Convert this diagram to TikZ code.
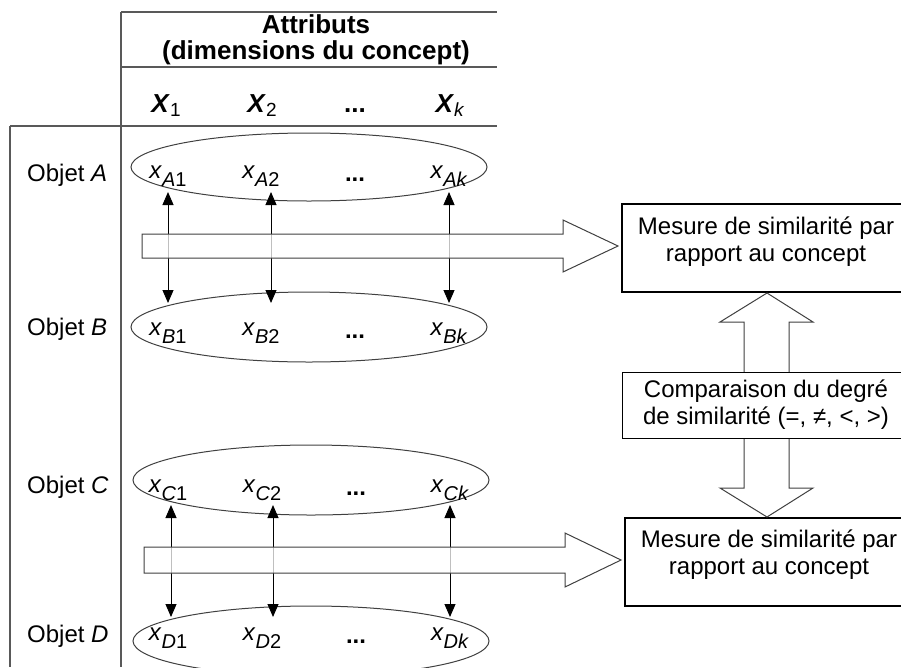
\documentclass[tikz,border=0pt]{standalone}
\usepackage{fontspec}
\setmainfont{Liberation Sans}
\usetikzlibrary{arrows.meta}
% lowered subscripts: values and header variables
\newcommand\subs[1]{\raisebox{-8pt}{\fontsize{20}{20}\selectfont #1}}
\newcommand\hsub[1]{\raisebox{-4pt}{\fontsize{19}{19}\selectfont #1}}
\newcommand\val[2]{\textit{x}\subs{\textit{#1}#2}}
\begin{document}
\begin{tikzpicture}[x=1pt,y=-1pt,
  every node/.style={font=\fontsize{24}{27}\selectfont, inner sep=0pt},
  >={Triangle[width=11pt,length=13pt]},
  grid/.style={draw=black!65, line width=1.1pt},
  oval/.style={draw=black!75, line width=1pt},
  lab/.style={anchor=base},
  hvar/.style={anchor=base, font=\fontsize{26}{28}\selectfont},
  vconn/.style={<->, line width=1pt},
  fat/.style={draw=black!75, line width=1pt, fill=white, fill opacity=0.75},
  box/.style={draw, line width=1.6pt, minimum width=288pt},
]
\useasboundingbox (0,0) rectangle (901,667);
\clip (0,0) rectangle (901,667);

% table rules
\draw[grid] (121,12) -- (497,12);
\draw[grid] (121,67) -- (497,67);
\draw[grid] (10,126) -- (497,126);
\draw[grid] (121,12) -- (121,667);
\draw[grid] (10,126) -- (10,667);

% header
\node[align=center, font=\fontsize{26}{26}\selectfont\bfseries] (attr) at (316,40)
  {Attributs\\(dimensions du concept)};
\node[hvar] (h1) at (166,112) {\textbf{\textit{X}}\hsub{1}};
\node[hvar] (h2) at (262,112) {\textbf{\textit{X}}\hsub{2}};
\node[hvar] (h3) at (355,112) {\textbf{...}};
\node[hvar] (hk) at (450,112) {\textbf{\textit{X}}\hsub{\textit{k}}};

% object names
\node[anchor=base west] (oA) at (27,181) {Objet \textit{A}};
\node[anchor=base west] (oB) at (27,335) {Objet \textit{B}};
\node[anchor=base west] (oC) at (27,493) {Objet \textit{C}};
\node[anchor=base west] (oD) at (27,642) {Objet \textit{D}};

% value sets
\draw[oval] (309,167) ellipse [x radius=178pt, y radius=34pt];
\draw[oval] (309,327) ellipse [x radius=178pt, y radius=35pt];
\draw[oval] (311,480) ellipse [x radius=178pt, y radius=35pt];
\draw[oval] (311,641) ellipse [x radius=178pt, y radius=35pt];

\node[lab] (a1) at (168,178) {\val{A}{1}};
\node[lab] (a2) at (261,178) {\val{A}{2}};
\node[lab] (a3) at (355,181) {\textbf{...}};
\node[lab] (ak) at (449,178) {\val{A}{\textit{k}}};
\node[lab] (b1) at (168,335) {\val{B}{1}};
\node[lab] (b2) at (261,335) {\val{B}{2}};
\node[lab] (b3) at (355,338) {\textbf{...}};
\node[lab] (bk) at (449,335) {\val{B}{\textit{k}}};
\node[lab] (c1) at (168,492) {\val{C}{1}};
\node[lab] (c2) at (262,492) {\val{C}{2}};
\node[lab] (c3) at (356,495) {\textbf{...}};
\node[lab] (ck) at (450,492) {\val{C}{\textit{k}}};
\node[lab] (d1) at (168,640) {\val{D}{1}};
\node[lab] (d2) at (262,640) {\val{D}{2}};
\node[lab] (d3) at (356,643) {\textbf{...}};
\node[lab] (dk) at (450,640) {\val{D}{\textit{k}}};

% attribute-wise comparisons
\draw[vconn] ([yshift=-14pt]a1.base) -- ([yshift=32pt]b1.base);
\draw[vconn] ([xshift=10pt,yshift=-14pt]a2.base) -- ([xshift=10pt,yshift=32pt]b2.base);
\draw[vconn] ([yshift=-14pt]ak.base) -- ([yshift=32pt]bk.base);
\draw[vconn] ([xshift=3pt,yshift=-13pt]c1.base) -- ([xshift=3pt,yshift=23pt]d1.base);
\draw[vconn] ([xshift=11pt,yshift=-13pt]c2.base) -- ([xshift=11pt,yshift=23pt]d2.base);
\draw[vconn] ([yshift=-13pt]ck.base) -- ([yshift=23pt]dk.base);

% similarity measures
\node[box, minimum height=88pt] (m1) at (766,248) {};
\node[align=center] (t1) at ([yshift=6pt]m1.center) {Mesure de similarité par\\rapport au concept};
\node[box, minimum height=88pt] (m2) at (769,562) {};
\node[align=center] (t2) at ([yshift=7pt]m2.center) {Mesure de similarité par\\rapport au concept};

% block arrows towards the measures
\path[fat] (142,234) -- (563,234) -- (563,220) -- (618,246) -- (563,272) -- (563,258) -- (142,258) -- cycle;
\path[fat] (144,547) -- (565,547) -- (565,533) -- (621,560) -- (565,587) -- (565,573) -- (144,573) -- cycle;

% two-way comparison between the measures
\path[draw=black!75, line width=1pt, fill=white]
  (767,293) -- (813,322) -- (789,322) -- (789,488) -- (813,488) -- (767,517)
  -- (720,488) -- (744,488) -- (744,322) -- (720,322) -- cycle;
\node[draw, line width=1pt, fill=white, minimum width=288pt, minimum height=66pt, align=center]
  (cmp) at (766,405) {Comparaison du degré\\de similarité (=, ≠, <, >)};
\end{tikzpicture}
\end{document}
